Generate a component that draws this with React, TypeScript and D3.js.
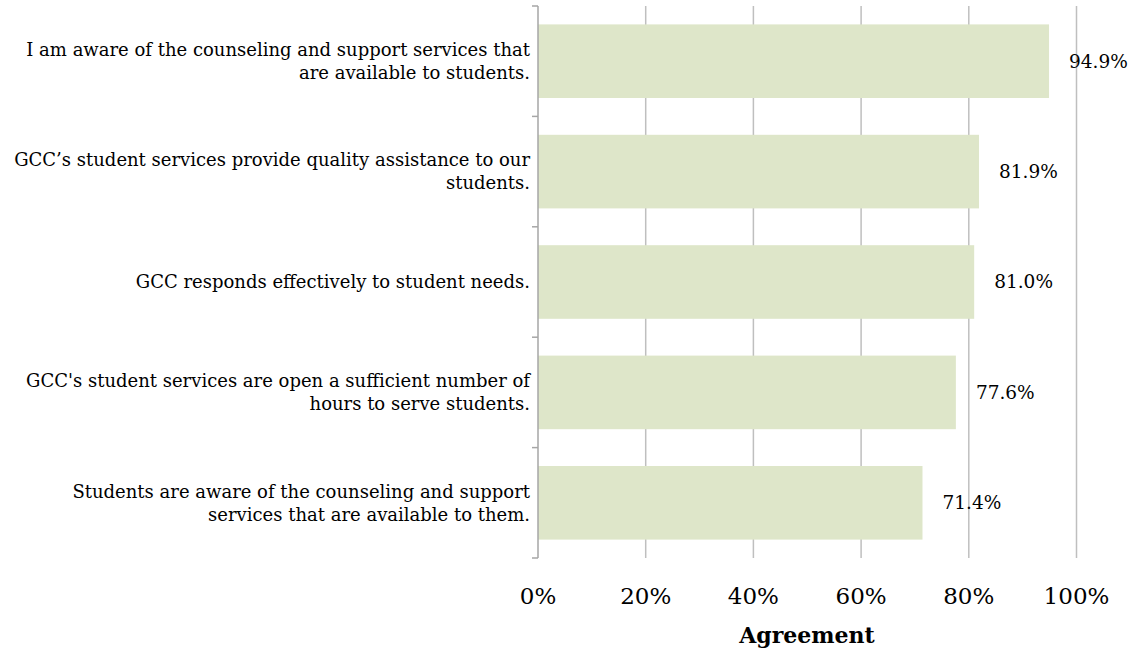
import React from "react";
import * as d3 from "d3";

const categories: string[][] = [
  ["I am aware of the counseling and support services that", "are available to students."],
  ["GCC\u2019s student services provide quality assistance to our", "students."],
  ["GCC responds effectively to student needs."],
  ["GCC's student services are open a sufficient number of", "hours to serve students."],
  ["Students are aware of the counseling and support", "services that are available to them."],
];
const values: number[] = [94.9, 81.9, 81.0, 77.6, 71.4];
const ticks: number[] = [0, 20, 40, 60, 80, 100];
const axisTitle = "Agreement";

const W = 1142;
const H = 654;
const left = 538;
const right = 1076.5;
const top = 6;
const bottom = 558;
const FONT = "'DejaVu Serif', serif";

export default function App() {
  const x = d3.scaleLinear().domain([0, 100]).range([left, right]);
  const y = d3
    .scaleBand<number>()
    .domain(d3.range(values.length))
    .range([top, bottom])
    .paddingInner(1 / 3)
    .paddingOuter(1 / 6);
  const band = (bottom - top) / values.length;
  const edges = d3.range(values.length + 1).map((i) => top + i * band);

  return (
    <svg width={W} height={H} style={{ position: "absolute", left: 0, top: 0 }}>
      <rect width={W} height={H} fill="#fff" />
      {ticks.slice(1).map((t) => (
        <line key={t} x1={x(t)} x2={x(t)} y1={top} y2={bottom} stroke="#bfbfbf" strokeWidth={1.5} />
      ))}
      {values.map((v, i) => (
        <rect key={i} x={x(0)} y={y(i)!} width={x(v) - x(0)} height={y.bandwidth()} fill="#dee6c9" />
      ))}
      <line x1={left} x2={left} y1={top} y2={bottom} stroke="#a6a6a6" strokeWidth={1.5} />
      {edges.map((e, i) => (
        <line key={i} x1={left - 6} x2={left} y1={e} y2={e} stroke="#a6a6a6" strokeWidth={1.5} />
      ))}
      {categories.map((lines, i) => {
        const cy = y(i)! + y.bandwidth() / 2;
        const lh = 23;
        const start = cy - ((lines.length - 1) * lh) / 2;
        return (
          <text key={i} fontFamily={FONT} fontSize={18} fill="#000" textAnchor="end">
            {lines.map((l, j) => (
              <tspan key={j} x={530} y={start + j * lh} dy="0.35em">
                {l}
              </tspan>
            ))}
          </text>
        );
      })}
      {values.map((v, i) => (
        <text
          key={i}
          x={x(v) + 20}
          y={y(i)! + y.bandwidth() / 2}
          dy="0.35em"
          fontFamily={FONT}
          fontSize={18.5}
          fill="#000"
        >
          {v.toFixed(1)}%
        </text>
      ))}
      {ticks.map((t) => (
        <text key={t} x={x(t)} y={596} dy="0.35em" textAnchor="middle" fontFamily={FONT} fontSize={23} fill="#000">
          {t}%
        </text>
      ))}
      <text x={807} y={635} dy="0.35em" textAnchor="middle" fontFamily={FONT} fontSize={22} fontWeight="bold" fill="#000">
        {axisTitle}
      </text>
    </svg>
  );
}
